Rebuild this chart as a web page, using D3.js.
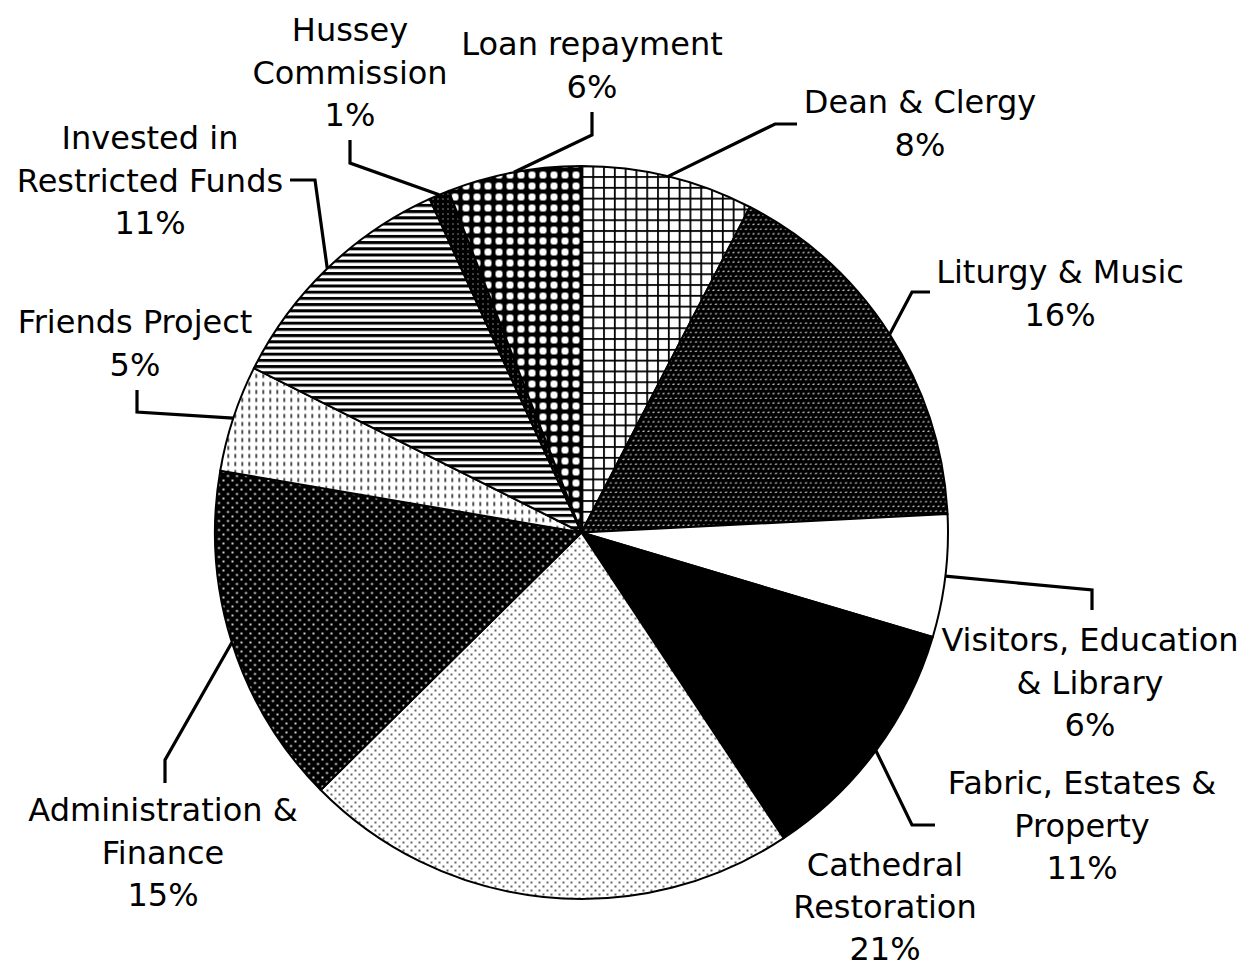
<!DOCTYPE html>
<html><head><meta charset="utf-8">
<script src="https://cdn.jsdelivr.net/npm/d3@7"></script>
<style>body{margin:0;background:#fff}</style>
</head><body>
<svg id="c" width="1249" height="968"></svg>
<script>
// ---- data ----
const categories = ["Dean & Clergy", "Liturgy & Music", "Visitors, Education & Library", "Fabric, Estates & Property", "Cathedral Restoration", "Administration & Finance", "Friends Project", "Invested in Restricted Funds", "Hussey Commission", "Loan repayment"];
const values = [7.6, 16.6, 5.4, 11.1, 21.9, 15.1, 4.7, 10.8, 0.9, 5.9];
const percentLabels = ["8%", "16%", "6%", "11%", "21%", "15%", "5%", "11%", "1%", "6%"];
const labelLines = [["Dean & Clergy"], ["Liturgy & Music"], ["Visitors, Education", "& Library"], ["Fabric, Estates &", "Property"], ["Cathedral", "Restoration"], ["Administration &", "Finance"], ["Friends Project"], ["Invested in", "Restricted Funds"], ["Hussey", "Commission"], ["Loan repayment"]];
const patternIds = ["grid", "liturgy", "white", "black", "sparse", "admin", "vdash", "hstripe", "hussey", "loan"];

// ---- layout ----
const W = 1249, H = 968;
const cx = 581.5, cy = 532.5, R = 366.5;
const labelPos = [[920,102],[1060,272],[1090,640],[1082,783],[885,865],[163,810],[135,322],[150,138],[350,30],[592,44]];
const labelLineH = [42.3,42.3,42.3,42.3,41.8,42.3,42.3,42.3,42.3,42.3];
// leader elbows (after the arc point)
const leaderElbows = [
  [[775,124],[797,124]],
  [[912,292],[930,292]],
  [[1092,590],[1092,610]],
  [[912,825],[935,825]],
  null,
  [[165,760],[165,783]],
  [[137,412],[137,390]],
  [[315,180],[290,180]],
  [[350,163],[350,140]],
  [[592,135],[592,112]]
];

const svg = d3.select("#c");
const defs = svg.append("defs");
function pat(id, w, h, bg) {
  const p = defs.append("pattern").attr("id", id).attr("patternUnits", "userSpaceOnUse")
    .attr("width", w).attr("height", h);
  p.append("rect").attr("width", w).attr("height", h).attr("fill", bg);
  return p;
}
// grid
let p = pat("grid", 10.8, 10.8, "#fff");
p.append("rect").attr("x",0).attr("y",0).attr("width",10.8).attr("height",1.8).attr("fill","#000");
p.append("rect").attr("x",0).attr("y",0).attr("width",1.8).attr("height",10.8).attr("fill","#000");
// liturgy: black with white diagonal flecks
p = pat("liturgy", 10, 9.4, "#000");
[[1,1.5],[6,1.5],[3.5,6.2],[8.5,6.2]].forEach(([x,y])=>{
  p.append("rect").attr("x",x).attr("y",y).attr("width",2).attr("height",1.1).attr("fill","#fff")
   .attr("transform",`rotate(-30 ${x+1} ${y+0.5})`);
});
pat("white", 4, 4, "#fff");
pat("black", 4, 4, "#000");
// sparse dots
p = pat("sparse", 8, 8, "#fff");
[[2,2],[6,6]].forEach(([x,y])=>p.append("circle").attr("cx",x).attr("cy",y).attr("r",0.95).attr("fill","#222"));
// admin white dots on black
p = pat("admin", 9, 9, "#000");
[[2,2],[6.5,6.5]].forEach(([x,y])=>p.append("circle").attr("cx",x).attr("cy",y).attr("r",1.1).attr("fill","#fff"));
// vertical dashes
p = pat("vdash", 7, 8, "#fff");
p.append("rect").attr("x",3).attr("y",1.5).attr("width",1.4).attr("height",4).attr("fill","#000");
// horizontal stripes
p = pat("hstripe", 6.2, 6.2, "#fff");
p.append("rect").attr("x",0).attr("y",0).attr("width",6.2).attr("height",3).attr("fill","#000");
// hussey dark
p = pat("hussey", 5, 5, "#000");
p.append("rect").attr("x",1).attr("y",1).attr("width",1).attr("height",1).attr("fill","#fff");
// loan: white rounded cells on black
p = pat("loan", 11, 11, "#000");
p.append("rect").attr("x",2).attr("y",2).attr("width",7).attr("height",7).attr("rx",2.8).attr("fill","#fff");

svg.append("rect").attr("width",W).attr("height",H).attr("fill","#fff").lower();

const pie = d3.pie().sort(null).value(d => d)(values);
const arc = d3.arc().innerRadius(0).outerRadius(R);
const g = svg.append("g").attr("transform", `translate(${cx},${cy})`);
g.selectAll("path.slice").data(pie).join("path").attr("class","slice")
  .attr("d", arc)
  .attr("fill", (d,i) => `url(#${patternIds[i]})`)
  .attr("stroke", "#000").attr("stroke-width", 2).attr("stroke-linejoin","round");

// leaders
pie.forEach((d,i) => {
  if (!leaderElbows[i]) return;
  const a = (d.startAngle + d.endAngle) / 2;
  const start = [cx + R * Math.sin(a), cy - R * Math.cos(a)];
  const pts = [start, ...leaderElbows[i]];
  svg.append("path").attr("d", d3.line()(pts)).attr("fill","none")
    .attr("stroke","#000").attr("stroke-width",3.2).attr("stroke-linejoin","miter");
});

// labels
categories.forEach((c,i) => {
  const lines = [...labelLines[i], percentLabels[i]];
  const t = svg.append("text").attr("text-anchor","middle")
    .attr("font-family","'DejaVu Sans', Verdana, sans-serif").attr("font-size",32).attr("fill","#000");
  lines.forEach((l,k) => {
    t.append("tspan").attr("x", labelPos[i][0]).attr("y", labelPos[i][1] + k*labelLineH[i])
      .attr("dy","0.35em").text(l);
  });
});
</script>
</body></html>
